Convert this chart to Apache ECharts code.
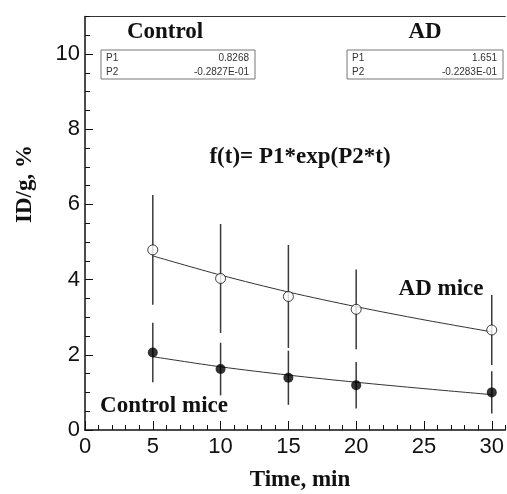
<!DOCTYPE html>
<html><head><meta charset="utf-8">
<script src="https://cdn.jsdelivr.net/npm/echarts@6/dist/echarts.min.js"></script>
<style>html,body{margin:0;padding:0;background:#fff}#c{width:507px;height:494px}</style>
</head><body><div id="c"></div><script>
// ---- data ----
const times = [5, 10, 15, 20, 30];
const adMean = [4.79, 4.03, 3.55, 3.21, 2.66];
const adSD = [1.46, 1.45, 1.37, 1.06, 0.93];
const ctlMean = [2.06, 1.62, 1.39, 1.19, 1.00];
const ctlSD = [0.79, 0.70, 0.72, 0.62, 0.56];
const fitTimes = [5, 10, 15, 20, 25, 30];
const adFit = [4.63, 4.12, 3.67, 3.28, 2.93, 2.61];
const ctlFit = [1.95, 1.68, 1.46, 1.27, 1.10, 0.94];
const xTickLabels = [0, 5, 10, 15, 20, 25, 30];
const yTickLabels = [0, 2, 4, 6, 8, 10];
const paramNames = ['P1', 'P2'];
const ctlParams = ['0.8268', '-0.2827E-01'];
const adParams = ['1.651', '-0.2283E-01'];
// ---------------------------------------

const G = {left: 85, top: 16.4, width: 423.7, height: 413.6};
const serif = "'Liberation Serif','Times New Roman',serif";
const sans = "'Liberation Sans',Arial,sans-serif";

function errRender(params, api) {
  const x = api.value(0);
  const p1 = api.coord([x, api.value(1)]);
  const p2 = api.coord([x, api.value(2)]);
  return {type: 'line', shape: {x1: p1[0], y1: p1[1], x2: p2[0], y2: p2[1]},
    style: {stroke: '#3a3a3a', lineWidth: 1.5}};
}
const zip = (a, b) => a.map((v, i) => [v, b[i]]);

function paramBox(x, y, w, vals) {
  const els = [{type: 'rect', shape: {x: x, y: y, width: w, height: 29},
    style: {fill: '#fff', stroke: '#777', lineWidth: 1}, z: 10}];
  paramNames.forEach((n, i) => {
    els.push({type: 'text', x: x + 5, y: y + 8 + i * 14, z: 11,
      style: {text: n, font: '10px ' + sans, fill: '#333', textVerticalAlign: 'middle'}});
    els.push({type: 'text', x: x + w - 6, y: y + 8 + i * 14, z: 11,
      style: {text: vals[i], font: '10px ' + sans, fill: '#333', textAlign: 'right', textVerticalAlign: 'middle'}});
  });
  return els;
}
function label(text, x, y, size, rot) {
  return {type: 'text', x: x, y: y, rotation: rot || 0, z: 12,
    style: {text: text, font: 'bold ' + size + 'px ' + serif, fill: '#111', textAlign: 'center', textVerticalAlign: 'middle'}};
}

const chart = echarts.init(document.getElementById('c'), null, {renderer: 'canvas'});
chart.setOption({
  animation: false,
  backgroundColor: '#fff',
  grid: G,
  xAxis: [
    {type: 'value', min: 0, max: 31, interval: 5, position: 'bottom',
      axisLine: {show: true, onZero: false, lineStyle: {color: '#111', width: 1.5}},
      axisTick: {show: true, inside: true, length: 9, lineStyle: {color: '#111', width: 1}},
      axisLabel: {show: true, margin: 6, showMaxLabel: false, color: '#111', fontSize: 22, fontFamily: sans,
        formatter: v => xTickLabels.indexOf(v) >= 0 ? String(v) : ''},
      splitLine: {show: false}},
    {type: 'value', min: 0, max: 31, interval: 1, position: 'bottom',
      axisLine: {show: false}, axisLabel: {show: false}, splitLine: {show: false},
      axisTick: {show: true, inside: true, length: 5, lineStyle: {color: '#111', width: 1}}},
    {type: 'value', min: 0, max: 31, position: 'top',
      axisLine: {show: true, onZero: false, lineStyle: {color: '#333', width: 1}},
      axisTick: {show: false}, axisLabel: {show: false}, splitLine: {show: false}}
  ],
  yAxis: [
    {type: 'value', min: 0, max: 11, interval: 2, position: 'left',
      axisLine: {show: true, onZero: false, lineStyle: {color: '#111', width: 1.5}},
      axisTick: {show: true, inside: true, length: 8, lineStyle: {color: '#111', width: 1}},
      axisLabel: {show: true, margin: 5, showMaxLabel: false, color: '#111', fontSize: 22, fontFamily: sans,
        formatter: v => yTickLabels.indexOf(v) >= 0 ? String(v) : ''},
      splitLine: {show: false}},
    {type: 'value', min: 0, max: 11, interval: 0.5, position: 'left', offset: 0,
      axisLine: {show: false}, axisLabel: {show: false}, splitLine: {show: false},
      axisTick: {show: true, inside: true, length: 5, lineStyle: {color: '#111', width: 1}}}
  ],
  series: [
    {type: 'custom', renderItem: errRender, z: 1,
      data: times.map((t, i) => [t, adMean[i] - adSD[i], adMean[i] + adSD[i]])},
    {type: 'custom', renderItem: errRender, z: 1,
      data: times.map((t, i) => [t, ctlMean[i] - ctlSD[i], ctlMean[i] + ctlSD[i]])},
    {type: 'line', data: zip(fitTimes, adFit), smooth: 0.3, symbol: 'none', z: 2,
      lineStyle: {color: '#333', width: 1}},
    {type: 'line', data: zip(fitTimes, ctlFit), smooth: 0.3, symbol: 'none', z: 2,
      lineStyle: {color: '#333', width: 1}},
    {type: 'scatter', data: zip(times, adMean), symbol: 'circle', symbolSize: 10, z: 3,
      itemStyle: {color: '#fff', borderColor: '#111', borderWidth: 1}},
    {type: 'scatter', data: zip(times, ctlMean), symbol: 'circle', symbolSize: 10, z: 3,
      itemStyle: {color: '#000'}}
  ],
  graphic: [
    label('Control', 165, 32, 23),
    label('AD', 425, 32, 23),
    ...paramBox(101, 50, 154, ctlParams),
    ...paramBox(347, 50, 156, adParams),
    label('f(t)= P1*exp(P2*t)', 300, 157, 23),
    label('AD mice', 441, 289, 23),
    label('Control mice', 164, 406, 23),
    label('Time, min', 300, 480, 23),
    label('ID/g, %', 25, 184, 23, Math.PI / 2)
  ]
});
</script></body></html>
